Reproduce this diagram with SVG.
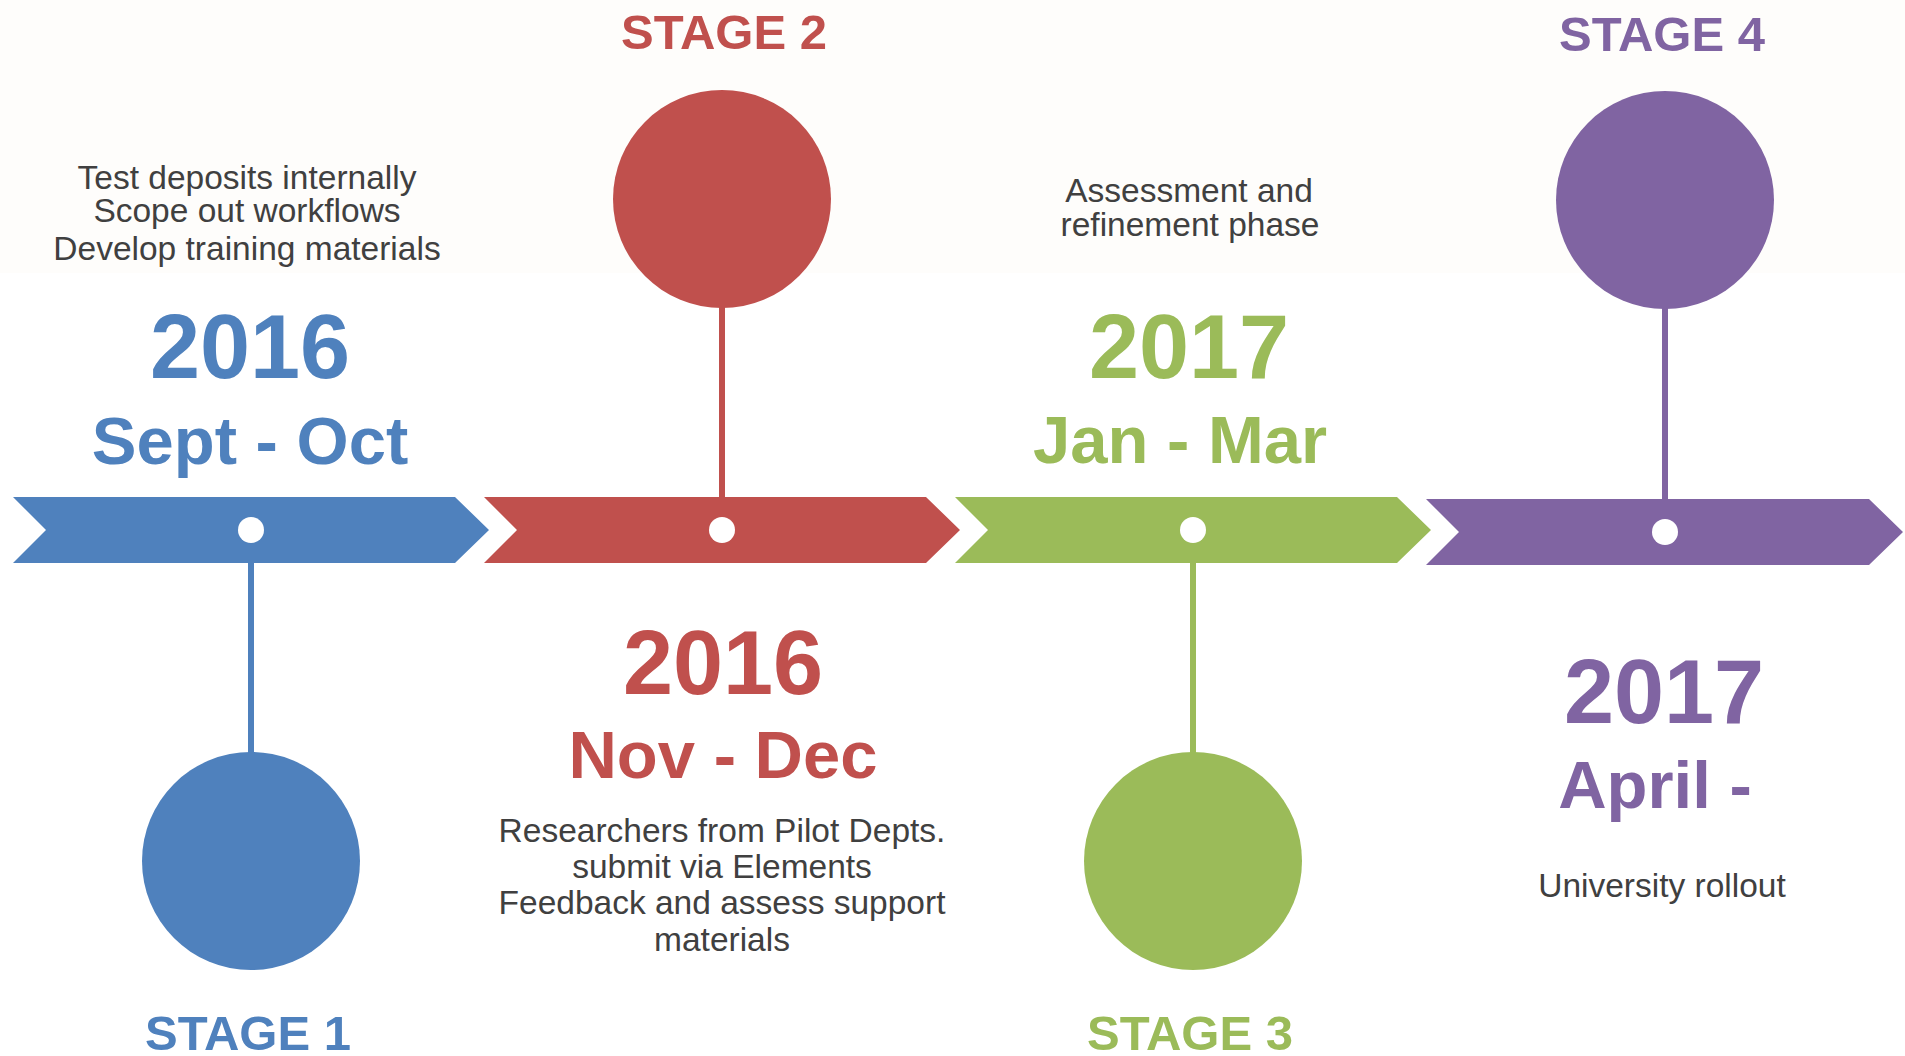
<svg xmlns="http://www.w3.org/2000/svg" width="1905" height="1056" viewBox="0 0 1905 1056">
<style>
.body{font-family:"Liberation Sans",Arial,sans-serif;font-size:33.5px;fill:#404040;text-anchor:middle}
.h{font-family:"Liberation Sans",Arial,sans-serif;font-weight:bold;text-anchor:middle}
.year{font-size:90px}
.mon{font-size:67px}
.stage{font-size:49px}
.dot{fill:#FFFFFF}
.blue{fill:#4F81BD}.red{fill:#C0504D}.green{fill:#9BBB59}.purple{fill:#8064A2}
.stem{stroke-width:6;fill:none}
</style>
<rect x="0" y="0" width="1905" height="1056" fill="#FFFFFF"/>
<rect x="0" y="0" width="1905" height="273" fill="#FEFDFB"/>
<g id="connectors">
<line class="stem" x1="251" y1="563" x2="251" y2="755" stroke="#4F81BD"/>
<line class="stem" x1="722" y1="305" x2="722" y2="497" stroke="#C0504D"/>
<line class="stem" x1="1193" y1="563" x2="1193" y2="755" stroke="#9BBB59"/>
<line class="stem" x1="1665" y1="307" x2="1665" y2="499" stroke="#8064A2"/>
</g>
<g id="stage1">
<path class="blue" d="M13,497 L455,497 L489,530 L455,563 L13,563 L46,530 Z"/>
<circle class="dot" cx="251" cy="530" r="13"/>
<circle class="blue" cx="251" cy="861" r="109"/>
<text class="body" x="247" y="189">Test deposits internally</text>
<text class="body" x="247" y="222">Scope out workflows</text>
<text class="body" x="247" y="260">Develop training materials</text>
<text class="h year blue" x="250" y="378">2016</text>
<text class="h mon blue" x="250" y="464">Sept - Oct</text>
<text class="h stage blue" x="248" y="1050">STAGE 1</text>
</g>
<g id="stage2">
<path class="red" d="M484,497 L926,497 L960,530 L926,563 L484,563 L517,530 Z"/>
<circle class="dot" cx="722" cy="530" r="13"/>
<circle class="red" cx="722" cy="199" r="109"/>
<text class="h stage red" x="724" y="49">STAGE 2</text>
<text class="h year red" x="723" y="694">2016</text>
<text class="h mon red" x="723" y="778">Nov - Dec</text>
<text class="body" x="722" y="842">Researchers from Pilot Depts.</text>
<text class="body" x="722" y="878">submit via Elements</text>
<text class="body" x="722" y="914">Feedback and assess support</text>
<text class="body" x="722" y="951">materials</text>
</g>
<g id="stage3">
<path class="green" d="M955,497 L1397,497 L1431,530 L1397,563 L955,563 L988,530 Z"/>
<circle class="dot" cx="1193" cy="530" r="13"/>
<circle class="green" cx="1193" cy="861" r="109"/>
<text class="body" x="1189" y="202">Assessment and</text>
<text class="body" x="1190" y="236">refinement phase</text>
<text class="h year green" x="1189" y="378">2017</text>
<text class="h mon green" x="1180" y="463">Jan - Mar</text>
<text class="h stage green" x="1190" y="1050">STAGE 3</text>
</g>
<g id="stage4">
<path class="purple" d="M1426,499 L1869,499 L1903,532 L1869,565 L1426,565 L1459,532 Z"/>
<circle class="dot" cx="1665" cy="532" r="13"/>
<circle class="purple" cx="1665" cy="200" r="109"/>
<text class="h stage purple" x="1662" y="51">STAGE 4</text>
<text class="h year purple" x="1664" y="723">2017</text>
<text class="h mon purple" x="1655" y="808">April -</text>
<text class="body" x="1662" y="897">University rollout</text>
</g>
</svg>
